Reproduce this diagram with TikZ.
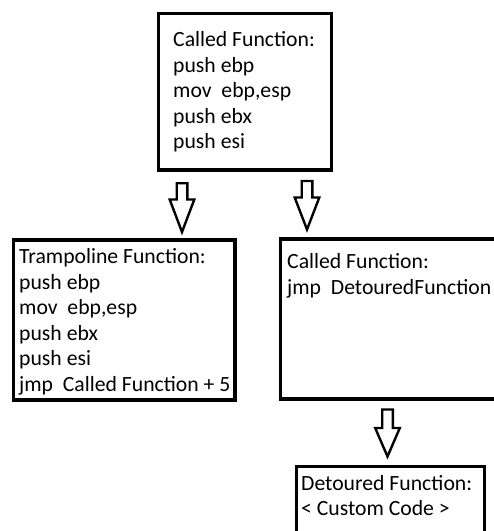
\documentclass[tikz,border=0pt]{standalone}
\usepackage{fontspec}
\setmainfont{Carlito}
\begin{document}
\begin{tikzpicture}[x=1pt,y=-1pt,
  box/.style={draw=black,line width=3.5pt,rectangle,inner sep=0pt,fill=white},
  code/.style={anchor=base west,align=left,inner sep=0pt,font=\fontsize{21.7}{25.5}\selectfont},
  blockarr/.style={draw=black,line width=2.4pt,fill=white,line join=miter}]
\useasboundingbox (0,0) rectangle (494,531);
\clip (0,0) rectangle (494,531);
\newcommand\blkarrow[4]{% cx, top, headstart, tip
  \draw[blockarr] (#1-5.3,#2) -- (#1+5.3,#2) -- (#1+5.3,#3) -- (#1+12.3,#3)
    -- (#1,#4) -- (#1-12.3,#3) -- (#1-5.3,#3) -- cycle;}
% boxes
\node[box,minimum width=173pt,minimum height=156.5pt] (called) at (245,91.75) {};
\node[box,minimum width=221.5pt,minimum height=160pt] (tramp) at (124.25,320) {};
\node[box,minimum width=229.5pt,minimum height=160pt] (called2) at (395.25,319) {};
\node[box,minimum width=188pt,minimum height=93.5pt] (detour) at (390.5,513.25) {};
% texts (anchor = baseline of the last line)
\node[code] (t1) at (173,148.5) {Called Function:\\push ebp\\mov\ \ ebp,esp\\push ebx\\push esi};
\node[code] (t2) at (19,391) {Trampoline Function:\\push ebp\\mov\ \ ebp,esp\\push ebx\\push esi\\jmp\ \ Called Function + 5};
\node[code] (t3) at (287,294) {Called Function:\\jmp\ \ DetouredFunction};
\node[code] (t4) at (301,515.5) {Detoured Function:\\< Custom Code >};
% block arrows
\blkarrow{182}{183.2}{199.5}{232}
\blkarrow{307}{181}{197.5}{229.5}
\blkarrow{387.5}{409.5}{428}{456.5}
\end{tikzpicture}
\end{document}
